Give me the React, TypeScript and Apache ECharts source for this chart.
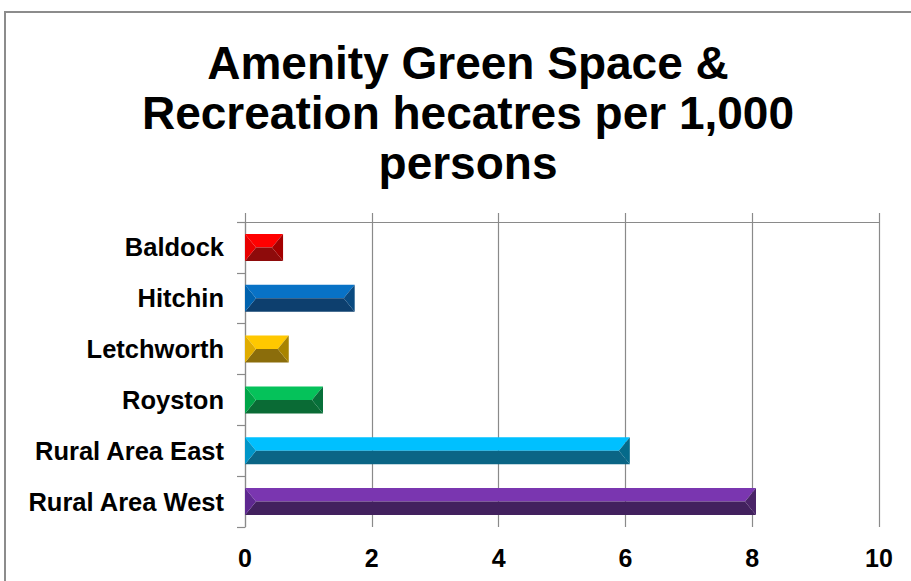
import React, { useEffect, useRef } from "react";
import * as echarts from "echarts";

const titleLines = ["Amenity Green Space &", "Recreation hecatres per 1,000", "persons"];
const categories = ["Baldock", "Hitchin", "Letchworth", "Royston", "Rural Area East", "Rural Area West"];
const values = [0.6, 1.73, 0.69, 1.23, 6.07, 8.06];
const xTicks = [0, 2, 4, 6, 8, 10];

// face colours per bar: [top, bottom, left, right]
const palette = [
  ["#FF0000", "#8E0B0B", "#E80000", "#A30000"],
  ["#0872C6", "#0D3F6E", "#0062AE", "#0A4A80"],
  ["#FFC800", "#8B6D0B", "#E0AC00", "#A88400"],
  ["#05C25A", "#0A6B35", "#00A548", "#07703A"],
  ["#00C0FF", "#0B6585", "#0096C8", "#056A8A"],
  ["#7A36B0", "#42215E", "#5E2890", "#4A2468"],
];

const FONT = "'Liberation Sans', Arial, sans-serif";

export default function App() {
  const ref = useRef<HTMLDivElement>(null);
  useEffect(() => {
    if (!ref.current) return;
    const chart = echarts.init(ref.current, undefined, { renderer: "svg" });
    const option: any = {
      animation: false,
      backgroundColor: "#ffffff",
      title: {
        text: titleLines.join("\n"),
        left: 463,
        top: 33,
        textAlign: "center",
        textStyle: {
          fontFamily: FONT,
          fontWeight: "bold",
          fontSize: 46,
          lineHeight: 50,
          color: "#000",
        },
      },
      graphic: [
        {
          type: "rect",
          shape: { x: 5, y: 12, width: 960, height: 620 },
          style: { fill: "none", stroke: "#8c8c8c", lineWidth: 2 },
          silent: true,
          z: -1,
        },
      ],
      grid: { left: 245, right: 32, top: 222, bottom: 54 },
      xAxis: [
        {
          type: "value",
          min: xTicks[0],
          max: xTicks[xTicks.length - 1],
          interval: 2,
          position: "bottom",
          axisLine: { show: false },
          axisTick: { show: false },
          splitLine: { show: true, lineStyle: { color: "#8a8a8a", width: 1.2 } },
          axisLabel: {
            margin: 18,
            fontFamily: FONT,
            fontWeight: "bold",
            fontSize: 25,
            color: "#000",
          },
        },
        {
          type: "value",
          min: xTicks[0],
          max: xTicks[xTicks.length - 1],
          interval: 2,
          position: "top",
          axisLine: { show: true, lineStyle: { color: "#8a8a8a", width: 1.2 } },
          axisTick: { show: true, inside: false, length: 9, lineStyle: { color: "#8a8a8a", width: 1.2 } },
          splitLine: { show: false },
          axisLabel: { show: false },
        },
      ],
      yAxis: {
        type: "category",
        data: categories,
        inverse: true,
        axisLine: { show: true, lineStyle: { color: "#8a8a8a", width: 1.2 } },
        axisTick: { show: true, inside: false, length: 8, lineStyle: { color: "#8a8a8a", width: 1.2 } },
        splitLine: { show: false },
        axisLabel: {
          margin: 21,
          fontFamily: FONT,
          fontWeight: "bold",
          fontSize: 25.5,
          color: "#000",
        },
      },
      series: [
        {
          type: "custom",
          xAxisIndex: 0,
          yAxisIndex: 0,
          encode: { x: 0, y: 1 },
          data: values.map((v, i) => [v, i]),
          renderItem: (params: any, api: any) => {
            const v = api.value(0);
            const idx = api.value(1);
            const s = api.coord([0, idx]);
            const e = api.coord([v, idx]);
            const band = api.size([0, 1])[1];
            const h = band * 0.53;
            const x0 = s[0];
            const x1 = e[0];
            const ym = s[1];
            const y0 = ym - h / 2;
            const y1 = ym + h / 2;
            const inset = Math.min(11, (x1 - x0) / 2);
            const c = palette[params.dataIndex % palette.length];
            return {
              type: "group",
              children: [
                {
                  type: "polygon",
                  shape: { points: [[x0, y0], [x1, y0], [x1 - inset, ym], [x0 + inset, ym]] },
                  style: { fill: c[0] },
                },
                {
                  type: "polygon",
                  shape: { points: [[x0, y1], [x1, y1], [x1 - inset, ym], [x0 + inset, ym]] },
                  style: { fill: c[1] },
                },
                {
                  type: "polygon",
                  shape: { points: [[x0, y0], [x0 + inset, ym], [x0, y1]] },
                  style: { fill: c[2] },
                },
                {
                  type: "polygon",
                  shape: { points: [[x1, y0], [x1 - inset, ym], [x1, y1]] },
                  style: { fill: c[3] },
                },
              ],
            };
          },
        },
      ],
    };
    chart.setOption(option);
    return () => chart.dispose();
  }, []);
  return (
    <div
      ref={ref}
      style={{ position: "fixed", left: 0, top: 0, width: 911, height: 581 }}
    />
  );
}
